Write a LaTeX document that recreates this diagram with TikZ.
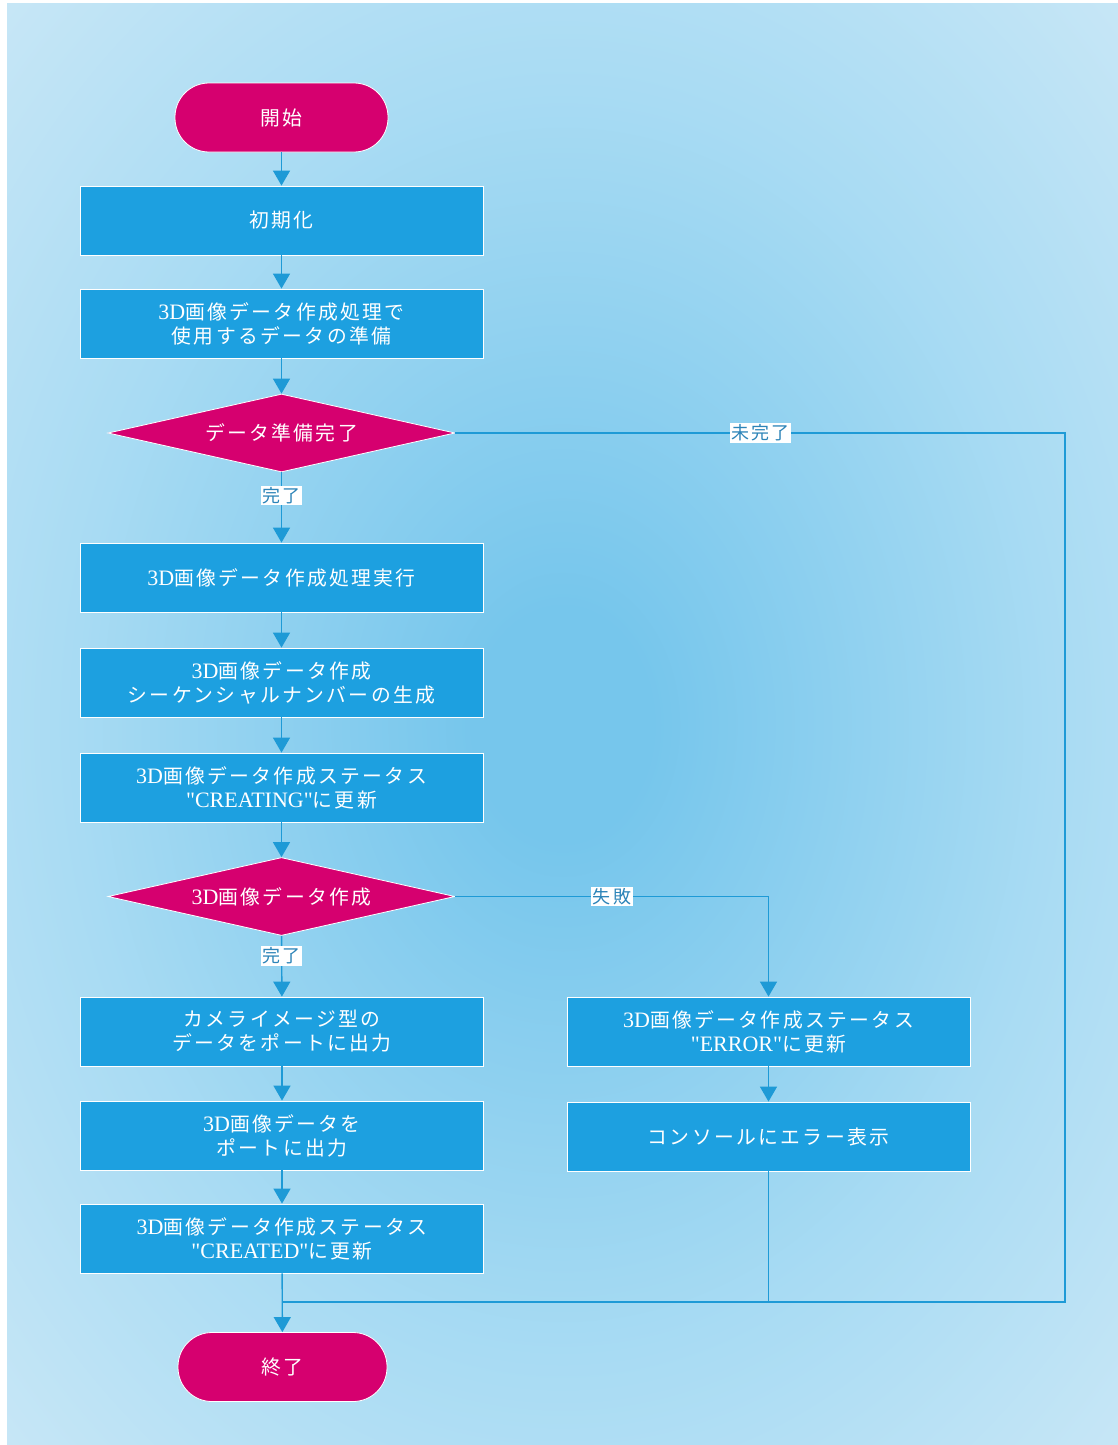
\documentclass[tikz,border=0pt]{standalone}
\usepackage{fontspec}
\setmainfont{Liberation Serif}[Ligatures=TeXOff]
\newfontfamily\cjk[LetterSpace=12,Scale=0.9]{Noto Sans CJK JP}
\newcommand\J[1]{{\cjk #1}}
\newcommand\Q{\symbol{34}}
\usetikzlibrary{shapes.geometric,arrows.meta}
\definecolor{bgin}{HTML}{76C6EC}
\definecolor{bgmid}{HTML}{A8DBF3}
\definecolor{bgout}{HTML}{D1EAF7}
\definecolor{boxblue}{HTML}{1DA0E0}
\definecolor{pinkc}{HTML}{D6006F}
\definecolor{linec}{HTML}{1E9AD6}
\definecolor{lblc}{HTML}{2C84B8}
\pgfdeclareradialshading{bgshade}{\pgfpoint{0bp}{0bp}}{color(0bp)=(bgin); color(4bp)=(bgin); color(22bp)=(bgmid); color(40bp)=(bgout); color(75bp)=(bgout)}
\tikzset{
  stepbox/.style={rectangle, fill=boxblue, draw=white, line width=0.8pt, minimum width=403pt, minimum height=69pt, text=white, align=center, font=\fontsize{22}{24}\selectfont, inner sep=0pt},
  term/.style={rectangle, rounded corners=34pt, fill=pinkc, draw=white, line width=0.8pt, minimum height=69pt, text=white, font=\fontsize{22}{24}\selectfont},
  decide/.style={diamond, aspect=4.45, fill=pinkc, draw=white, line width=0.8pt, minimum width=347pt, minimum height=78pt, inner sep=0pt, text=white, font=\fontsize{22}{24}\selectfont},
  lbl/.style={fill=white, text=lblc, inner sep=1.5pt, font=\fontsize{20}{22}\selectfont},
  conn/.style={draw=linec, line width=1.4pt},
  arr/.style={conn, -{Triangle[width=17pt,length=15pt]}}
}
\begin{document}
\begin{tikzpicture}[x=1pt,y=-1pt]
\useasboundingbox (0,0) rectangle (1118,1445);
\shade[shading=bgshade] (7,4) rectangle (1118,1445);

\node[term, minimum width=213pt] (start) at (281.5,117.5) {\J{開始}};
\node[stepbox] (init) at (281.5,220.5) {\J{初期化}};
\node[stepbox] (prep) at (281.5,323.5) {3D\J{画像データ作成処理で}\\\J{使用するデータの準備}};
\node[decide] (d1) at (281.5,433) {\J{データ準備完了}};
\node[stepbox] (exec) at (281.5,577.5) {3D\J{画像データ作成処理実行}};
\node[stepbox] (seq) at (281.5,682.5) {3D\J{画像データ作成}\\\J{シーケンシャルナンバーの生成}};
\node[stepbox] (creating) at (281.5,787.5) {3D\J{画像データ作成ステータス}\\\Q CREATING\Q\J{に更新}};
\node[decide] (d2) at (281.5,896.5) {3D\J{画像データ作成}};
\node[stepbox] (camera) at (282,1031.5) {\J{カメライメージ型の}\\\J{データをポートに出力}};
\node[stepbox] (port) at (282,1135.5) {3D\J{画像データを}\\\J{ポートに出力}};
\node[stepbox] (created) at (282,1238.5) {3D\J{画像データ作成ステータス}\\\Q CREATED\Q\J{に更新}};
\node[term, minimum width=209pt] (end) at (282.5,1367) {\J{終了}};
\node[stepbox] (err) at (768.5,1031.5) {3D\J{画像データ作成ステータス}\\\Q ERROR\Q\J{に更新}};
\node[stepbox] (console) at (768.5,1136.5) {\J{コンソールにエラー表示}};

\coordinate (m) at (282,1302);
\coordinate (c1) at (1065,1302);

\draw[arr] (start) -- (init);
\draw[arr] (init) -- (prep);
\draw[arr] (prep) -- (d1);
\draw[arr] (d1) -- node[lbl, pos=0.33] {\J{完了}} (exec);
\draw[arr] (exec) -- (seq);
\draw[arr] (seq) -- (creating);
\draw[arr] (creating) -- (d2);
\draw[arr] (d2) -- node[lbl, pos=0.33] {\J{完了}} (camera);
\draw[arr] (camera) -- (port);
\draw[arr] (port) -- (created);
\draw[arr] (created) -- (end);
\draw[arr] (d2.east) -- node[lbl] {\J{失敗}} (d2.east -| err.north) -- (err.north);
\draw[arr] (err) -- (console);
\draw[conn] (console.south) -- (console.south |- m);
\draw[conn] (d1.east) -- node[lbl] {\J{未完了}} (d1.east -| c1) -- (c1) -- (m);
\end{tikzpicture}
\end{document}
